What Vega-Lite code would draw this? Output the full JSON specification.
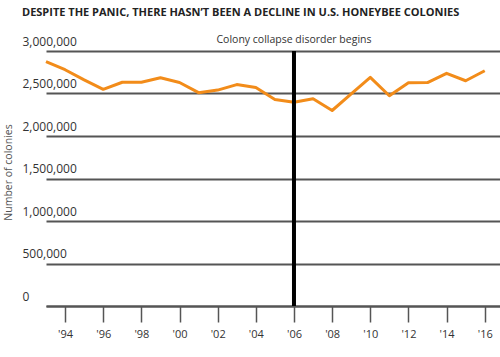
{
  "$schema": "https://vega.github.io/schema/vega-lite/v6.json",
  "width": 454,
  "height": 255,
  "autosize": "none",
  "padding": {"left": 46, "top": 51, "right": 0, "bottom": 51},
  "background": "white",
  "config": {
    "font": "Open Sans",
    "view": {"stroke": null}
  },
  "title": {
    "text": "DESPITE THE PANIC, THERE HASN’T BEEN A DECLINE IN U.S. HONEYBEE COLONIES",
    "anchor": "start",
    "frame": "group",
    "dx": -24,
    "offset": 17,
    "fontSize": 11,
    "fontWeight": "bold",
    "color": "#222",
    "font": "Open Sans"
  },
  "datasets": {
    "colonies": [
      {"year": 1993, "colonies": 2874000},
      {"year": 1994, "colonies": 2780000},
      {"year": 1995, "colonies": 2660000},
      {"year": 1996, "colonies": 2549000},
      {"year": 1997, "colonies": 2632000},
      {"year": 1998, "colonies": 2633000},
      {"year": 1999, "colonies": 2686000},
      {"year": 2000, "colonies": 2630000},
      {"year": 2001, "colonies": 2510000},
      {"year": 2002, "colonies": 2540000},
      {"year": 2003, "colonies": 2605000},
      {"year": 2004, "colonies": 2570000},
      {"year": 2005, "colonies": 2430000},
      {"year": 2006, "colonies": 2396000},
      {"year": 2007, "colonies": 2438000},
      {"year": 2008, "colonies": 2300000},
      {"year": 2009, "colonies": 2495000},
      {"year": 2010, "colonies": 2690000},
      {"year": 2011, "colonies": 2474000},
      {"year": 2012, "colonies": 2627000},
      {"year": 2013, "colonies": 2628000},
      {"year": 2014, "colonies": 2737000},
      {"year": 2015, "colonies": 2650000},
      {"year": 2016, "colonies": 2768000}
    ],
    "event": [
      {"year": 2006, "top": 3000000, "bottom": 0, "label": "Colony collapse disorder begins"}
    ]
  },
  "layer": [
    {
      "data": {"name": "colonies"},
      "mark": {"type": "line", "color": "#F28C1A", "strokeWidth": 3, "strokeJoin": "round"},
      "encoding": {
        "x": {
          "field": "year",
          "type": "quantitative",
          "scale": {"domain": [1993, 2016.8], "nice": false, "zero": false},
          "axis": {
            "values": [1994, 1996, 1998, 2000, 2002, 2004, 2006, 2008, 2010, 2012, 2014, 2016],
            "labelExpr": "'\\'' + slice(toString(datum.value), 2)",
            "title": null,
            "grid": false,
            "domainColor": "#555",
            "domainWidth": 2,
            "tickColor": "#555",
            "tickWidth": 1.5,
            "tickSize": 16,
            "labelPadding": 6,
            "labelFontSize": 11,
            "labelColor": "#333",
            "labelFont": "Open Sans"
          }
        },
        "y": {
          "field": "colonies",
          "type": "quantitative",
          "scale": {"domain": [0, 3000000], "nice": false},
          "axis": {
            "values": [0, 500000, 1000000, 1500000, 2000000, 2500000, 3000000],
            "format": ",d",
            "title": "Number of colonies",
            "titleX": -38,
            "titleY": 121,
            "titleAngle": -90,
            "titleAlign": "center",
            "titleBaseline": "middle",
            "titleFontSize": 10.5,
            "titleFontWeight": "normal",
            "titleColor": "#555",
            "titleFont": "Open Sans",
            "domain": false,
            "ticks": false,
            "grid": true,
            "gridColor": "#555",
            "gridWidth": 2,
            "labelAlign": "left",
            "labelBaseline": "middle",
            "labelOffset": -10,
            "labelPadding": 24,
            "labelFontSize": 12,
            "labelColor": "#333",
            "labelFont": "Open Sans"
          }
        }
      }
    },
    {
      "data": {"name": "event"},
      "mark": {"type": "rule", "color": "#000", "strokeWidth": 4},
      "encoding": {
        "x": {"field": "year", "type": "quantitative"},
        "y": {"field": "top", "type": "quantitative"},
        "y2": {"field": "bottom"}
      }
    },
    {
      "data": {"name": "event"},
      "mark": {"type": "text", "dy": -11, "fontSize": 10.5, "color": "#333", "font": "Open Sans", "align": "center", "baseline": "middle"},
      "encoding": {
        "x": {"field": "year", "type": "quantitative"},
        "y": {"field": "top", "type": "quantitative"},
        "text": {"field": "label"}
      }
    }
  ]
}
